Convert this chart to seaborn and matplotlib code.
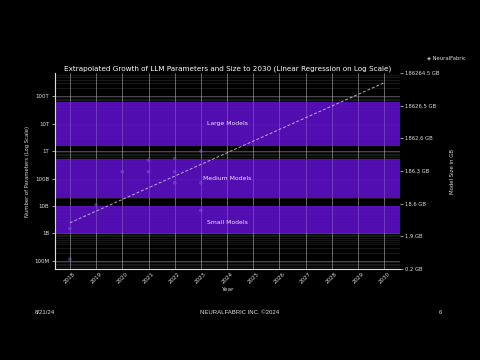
import numpy as np
import pandas as pd
import matplotlib
matplotlib.use("Agg")
import matplotlib.pyplot as plt
import matplotlib.ticker as mticker
import seaborn as sns

# ---- data ----
years = [2018, 2018, 2019, 2020, 2021, 2021, 2022, 2022, 2022, 2023, 2023, 2023]
params = [1.17e8, 1.5e9, 1.1e10, 1.75e11, 1.75e11, 4.7e11, 5.4e11, 1.75e11, 7.0e10, 1.0e12, 7.0e10, 7.0e9]
future_years = list(range(2018, 2031))
band_names = ["Small Models", "Medium Models", "Large Models"]
band_low = [1e9, 2e10, 1.5e12]
band_high = [1e10, 5e11, 6e13]
band_label_y = [2.6e9, 1e11, 1e13]
left_tick_vals = [1e8, 1e9, 1e10, 1e11, 1e12, 1e13, 1e14]
left_tick_labels = ["100M", "1B", "10B", "100B", "1T", "10T", "100T"]
right_tick_labels = ["0.2 GB", "1.9 GB", "18.6 GB", "186.3 GB", "1862.6 GB", "18626.5 GB", "186264.5 GB"]

sns.set_theme(style="dark")
plt.rcParams["font.family"] = ["DejaVu Sans"]

fig = plt.figure(figsize=(4.8, 3.6), dpi=100, facecolor="black")
ax = fig.add_axes([0.1146, 0.2528, 0.7187, 0.5444])
ax.set_facecolor("black")

# bands
for lo, hi, name, ly in zip(band_low, band_high, band_names, band_label_y):
    ax.axhspan(lo, hi, color="#5a0fc0", alpha=0.92, zorder=2, lw=0)
    ax.text(2024, ly, name, color="#ece2ff", fontsize=4.4, ha="center", va="center", zorder=5)

df = pd.DataFrame({"Year": years, "Params": params})
sns.scatterplot(data=df, x="Year", y="Params", ax=ax, color="#7a55d0", s=7,
                alpha=0.55, edgecolor="none", zorder=3)

# regression on log scale
coef = np.polyfit(np.array(years, float), np.log10(params), 1)
fy = np.array(future_years, float)
fit = 10 ** np.polyval(coef, fy)
sns.lineplot(x=fy, y=fit, ax=ax, color="#d8d0f0", lw=0.7, linestyle=(0, (3, 2)),
             alpha=0.8, zorder=4)

ax.set_yscale("log")
ax.set_ylim(5.1e7, 6.9e14)
ax.set_xlim(2017.43, 2030.6)
ax.yaxis.set_major_locator(mticker.FixedLocator(left_tick_vals))
ax.yaxis.set_major_formatter(mticker.FixedFormatter(left_tick_labels))
ax.yaxis.set_minor_locator(mticker.LogLocator(base=10, subs=np.arange(2, 10), numticks=20))
ax.yaxis.set_minor_formatter(mticker.NullFormatter())
ax.set_xticks(future_years)
ax.set_xticklabels([str(y) for y in future_years], rotation=45, fontsize=4, color="#dddddd")
ax.tick_params(axis="y", labelsize=4, colors="#dddddd", length=2, width=0.5, pad=2)
ax.tick_params(axis="x", colors="#dddddd", length=0, pad=2)
ax.tick_params(axis="y", which="minor", length=0)

ax.grid(True, which="major", axis="both", color="#bbbbbb", alpha=0.45, lw=0.6)
ax.grid(True, which="minor", axis="y", color="#999999", alpha=0.3, lw=0.4)
for gl in ax.get_xgridlines() + ax.get_ygridlines():
    gl.set_zorder(1)
ax.set_axisbelow(True)
# vertical grid should show faintly through bands: redraw year lines above bands
for yr in future_years:
    ax.axvline(yr, color="#cccccc", alpha=0.25, lw=0.6, zorder=2.5)

for s in ["top", "right"]:
    ax.spines[s].set_visible(False)
for s in ["left", "bottom"]:
    ax.spines[s].set_visible(True)
    ax.spines[s].set_color("#dddddd")
    ax.spines[s].set_linewidth(0.8)
    ax.spines[s].set_zorder(6)

ax.set_xlabel("Year", fontsize=4.2, color="#dddddd", labelpad=1)
ax.set_ylabel("Number of Parameters (Log Scale)", fontsize=3.8, color="#dddddd", labelpad=3)
ax.set_title("Extrapolated Growth of LLM Parameters and Size to 2030 (Linear Regression on Log Scale)",
             fontsize=5.2, color="white", pad=2)

# right axis: model size in GB
ax2 = ax.twinx()
ax2.set_ylim(0, 6)
ax2.set_yticks(range(7))
ax2.set_yticklabels(right_tick_labels, fontsize=3.8, color="#dddddd")
ax2.tick_params(axis="y", length=2, width=0.5, colors="#dddddd", pad=1.5)
ax2.grid(False)
for s in ax2.spines.values():
    s.set_visible(False)
ax2.set_ylabel("Model Size in GB", fontsize=3.9, color="#dddddd", labelpad=8)

# footer & logo
foot = ["Liberation Sans", "DejaVu Sans"]
fig.text(45 / 480, 1 - 312 / 360, "8/21/24", fontsize=4.3, color="#dddddd", ha="center", va="center", family=foot)
fig.text(0.5, 1 - 312 / 360, "NEURALFABRIC INC. \u00a92024", fontsize=4.3, color="#dddddd", ha="center", va="center", family=foot)
fig.text(440 / 480, 1 - 312 / 360, "6", fontsize=4.3, color="#dddddd", ha="center", va="center", family=foot)
fig.text(446 / 480, 1 - 58 / 360, "\u25c8 NeuralFabric", fontsize=3.8, color="#dddddd", ha="center", va="center")

fig.savefig("out.png", dpi=100, facecolor="black")
